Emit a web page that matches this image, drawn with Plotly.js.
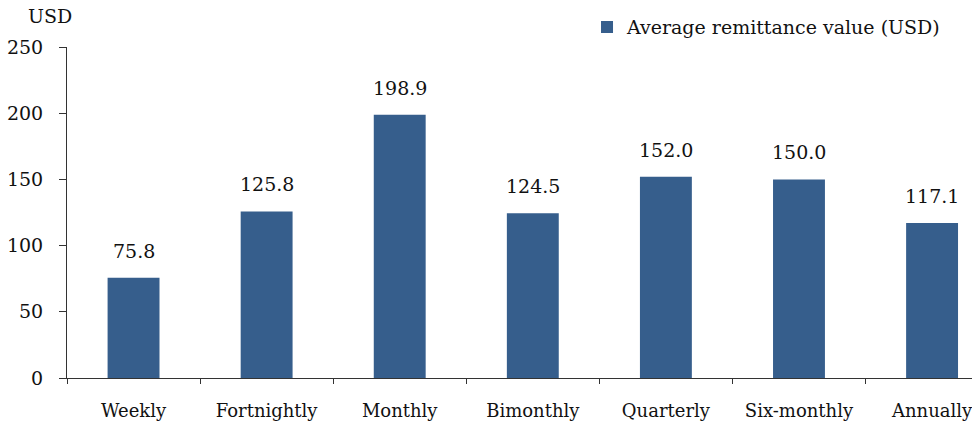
<!DOCTYPE html>
<html>
<head>
<meta charset="utf-8">
<script src="https://cdn.plot.ly/plotly-3.0.1.min.js"></script>
<style>
  html, body { margin: 0; padding: 0; background: #fff; }
  #chart { width: 972px; height: 427px; }
</style>
</head>
<body>
<div id="chart"></div>
<script>
// Remittance frequency and the average amount sent (USD)
const frequencies = ["Weekly", "Fortnightly", "Monthly", "Bimonthly", "Quarterly", "Six-monthly", "Annually"];
const averageValues = [75.8, 125.8, 198.9, 124.5, 152.0, 150.0, 117.1];
const valueLabels = ["75.8", "125.8", "198.9", "124.5", "152.0", "150.0", "117.1"];
const yTicks = [0, 50, 100, 150, 200, 250];

const FONT = "DejaVu Serif";
const FS = 19;
const BAR_COLOR = "#365E8C";
const TEXT_COLOR = "#111";

const trace = {
  type: "bar",
  x: frequencies,
  y: averageValues,
  name: "Average remittance value (USD)",
  width: 0.39,
  marker: { color: BAR_COLOR, line: { width: 0 } },
  hoverinfo: "x+y"
};

// value labels sitting above each bar
const labels = frequencies.map((f, i) => ({
  x: f,
  y: averageValues[i],
  text: valueLabels[i],
  showarrow: false,
  xanchor: "center",
  yanchor: "bottom",
  yshift: 14,
  font: { family: FONT, size: FS, color: TEXT_COLOR }
}));

// unit label above the value axis
labels.push({
  xref: "paper", yref: "paper",
  x: -0.019, y: 1.093,
  xanchor: "center", yanchor: "middle",
  text: "USD",
  showarrow: false,
  font: { family: FONT, size: FS, color: TEXT_COLOR }
});

const layout = {
  width: 972,
  height: 427,
  margin: { l: 67, r: 0, t: 47, b: 49, autoexpand: false },
  paper_bgcolor: "#fff",
  plot_bgcolor: "#fff",
  font: { family: FONT, size: FS, color: TEXT_COLOR },
  showlegend: true,
  legend: {
    x: 0.5746, y: 1.06,
    xanchor: "left", yanchor: "middle",
    bgcolor: "rgba(0,0,0,0)",
    font: { family: FONT, size: FS, color: TEXT_COLOR },
    itemwidth: 30
  },
  xaxis: {
    type: "category",
    range: [-0.5, 6.3],
    showline: true,
    linecolor: "#333",
    linewidth: 1,
    ticks: "outside",
    tickson: "boundaries",
    ticklen: 5,
    tickcolor: "#333",
    showgrid: false,
    zeroline: false,
    tickfont: { family: FONT, size: 18, color: TEXT_COLOR },
    ticklabelstandoff: 16
  },
  yaxis: {
    range: [0, 250],
    tickvals: yTicks,
    ticktext: yTicks.map(String),
    showline: true,
    linecolor: "#333",
    linewidth: 1,
    ticks: "outside",
    ticklen: 7,
    tickcolor: "#333",
    showgrid: false,
    zeroline: false,
    tickfont: { family: FONT, size: FS, color: TEXT_COLOR },
    ticklabelstandoff: 12
  },
  annotations: labels
};

Plotly.newPlot("chart", [trace], layout, { displayModeBar: false, staticPlot: true });
</script>
</body>
</html>
